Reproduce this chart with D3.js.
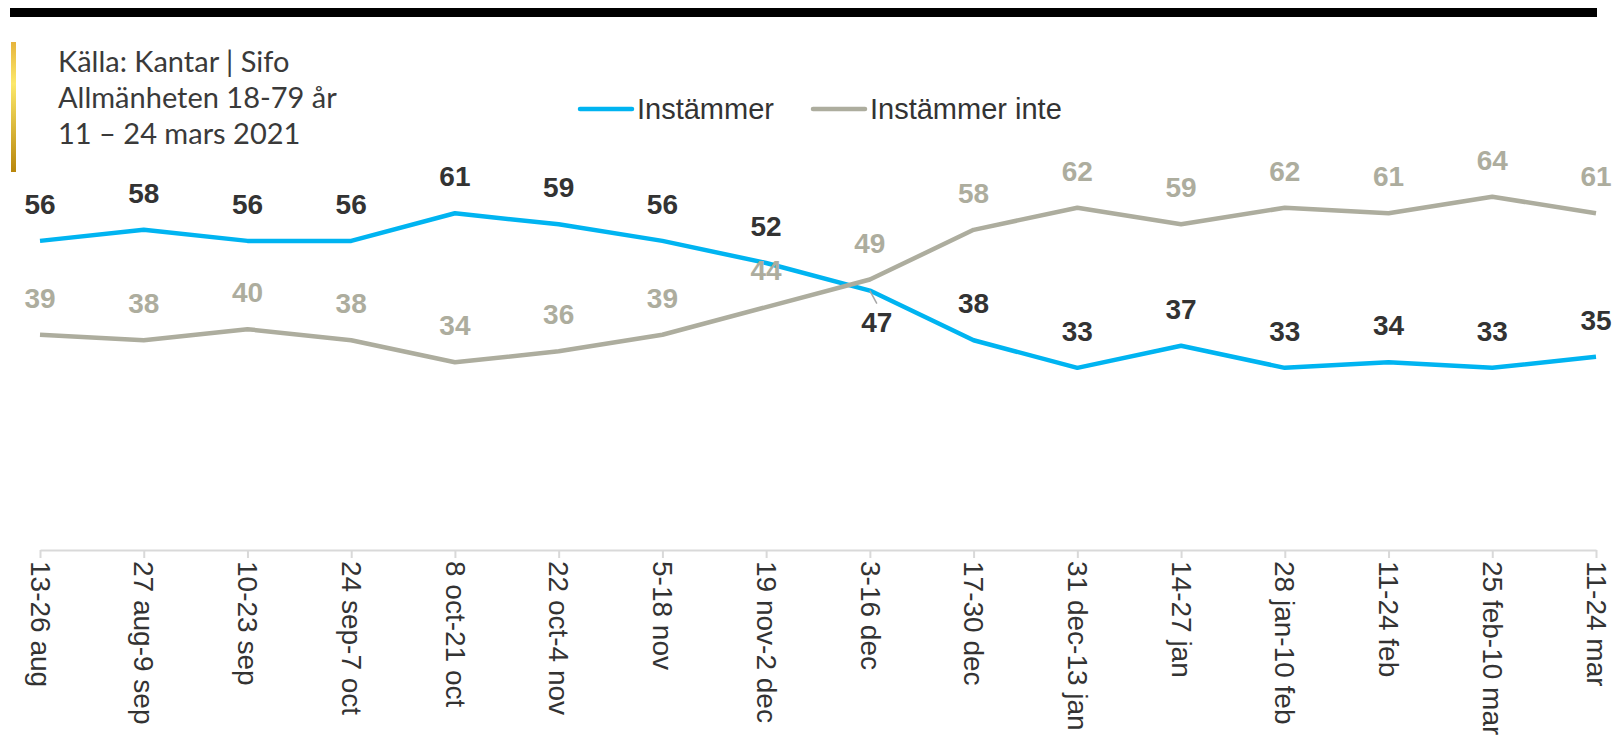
<!DOCTYPE html>
<html>
<head>
<meta charset="utf-8">
<script src="https://cdn.jsdelivr.net/npm/d3@7"></script>
<style>
  body { margin: 0; background: #fff; }
  svg { display: block; }
</style>
</head>
<body>
<div id="chart"></div>
<script>
const categories = ['13-26 aug', '27 aug-9 sep', '10-23 sep', '24 sep-7 oct', '8 oct-21 oct', '22 oct-4 nov',
    '5-18 nov', '19 nov-2 dec', '3-16 dec', '17-30 dec', '31 dec-13 jan', '14-27 jan', '28 jan-10 feb',
    '11-24 feb', '25 feb-10 mar', '11-24 mar'];
const instammer = [56, 58, 56, 56, 61, 59, 56, 52, 47, 38, 33, 37, 33, 34, 33, 35];
const instammerInte = [39, 38, 40, 38, 34, 36, 39, 44, 49, 58, 62, 59, 62, 61, 64, 61];
const seriesNames = ['Instämmer', 'Instämmer inte'];
const headerLines = ['Källa: Kantar | Sifo', 'Allmänheten 18-79 år', '11 – 24 mars 2021'];

const width = 1613, height = 750;
const blue = '#00b4f1', grey = '#adad9e';

const svg = d3.select('#chart').append('svg')
    .attr('width', width)
    .attr('height', height);

// top black rule
svg.append('rect')
    .attr('x', 10).attr('y', 8)
    .attr('width', 1587).attr('height', 9)
    .attr('fill', '#000');

// gold accent bar
const grad = svg.append('defs').append('linearGradient')
    .attr('id', 'gold').attr('x1', 0).attr('x2', 0).attr('y1', 0).attr('y2', 1);
grad.append('stop').attr('offset', '0%').attr('stop-color', '#e6b43c');
grad.append('stop').attr('offset', '32%').attr('stop-color', '#fce86a');
grad.append('stop').attr('offset', '100%').attr('stop-color', '#b8860b');
svg.append('rect')
    .attr('x', 11).attr('y', 42)
    .attr('width', 5).attr('height', 130)
    .attr('fill', 'url(#gold)');

// source text
svg.append('g').selectAll('text')
    .data(headerLines)
    .enter()
    .append('text')
    .attr('x', 58)
    .attr('y', (d, i) => 72 + i * 36)
    .attr('font-family', 'Lato, sans-serif')
    .attr('font-size', 29)
    .attr('fill', '#3a3a3a')
    .text(d => d);

// scales
const x = d3.scalePoint()
    .domain(categories)
    .range([40, 1596]);
const y = d3.scaleLinear()
    .domain([0, 100])
    .range([550, -2]);

// x axis
const axis = svg.append('g')
    .attr('transform', `translate(0,${y(0)})`)
    .call(d3.axisBottom(x).tickSize(8).tickSizeOuter(0));
axis.select('.domain').attr('stroke', '#d9d9d9').attr('stroke-width', 2);
axis.selectAll('.tick line').attr('stroke', '#d9d9d9').attr('stroke-width', 2);
axis.selectAll('.tick text')
    .attr('transform', 'rotate(90)')
    .attr('x', 11)
    .attr('y', 0)
    .attr('dy', '0.35em')
    .attr('text-anchor', 'start')
    .attr('font-family', 'Liberation Sans, Arial, sans-serif')
    .attr('font-size', 28)
    .attr('fill', '#333');

// lines
const line = d3.line()
    .x((d, i) => x(categories[i]))
    .y(d => y(d));

const series = [
    { name: seriesNames[0], values: instammer, color: blue, labelColor: '#333333' },
    { name: seriesNames[1], values: instammerInte, color: grey, labelColor: grey }
];

svg.append('g').selectAll('path')
    .data(series)
    .enter()
    .append('path')
    .attr('d', d => line(d.values))
    .attr('fill', 'none')
    .attr('stroke', d => d.color)
    .attr('stroke-width', 4.5)
    .attr('stroke-linejoin', 'round');

// data labels (the 47 point sits below with a short leader)
const below = (s, i) => s === 0 && i === 8;

series.forEach((s, si) => {
    const g = svg.append('g');
    s.values.forEach((v, i) => {
        const px = x(categories[i]), py = y(v);
        if (below(si, i)) {
            g.append('line')
                .attr('x1', px).attr('y1', py)
                .attr('x2', px + 7).attr('y2', py + 13)
                .attr('stroke', '#a6a6a6')
                .attr('stroke-width', 1.5);
        }
        g.append('text')
            .attr('x', below(si, i) ? px + 7 : px)
            .attr('y', below(si, i) ? py + 41 : py - 27)
            .attr('text-anchor', 'middle')
            .attr('font-family', 'Liberation Sans, Arial, sans-serif')
            .attr('font-weight', 'bold')
            .attr('font-size', 28)
            .attr('fill', s.labelColor)
            .text(v);
    });
});

// legend
const legend = svg.append('g').attr('transform', 'translate(0,109)');
const legendX = [580, 813];
series.forEach((s, i) => {
    legend.append('line')
        .attr('x1', legendX[i]).attr('x2', legendX[i] + 52)
        .attr('y1', 0).attr('y2', 0)
        .attr('stroke', s.color)
        .attr('stroke-width', 4.5)
        .attr('stroke-linecap', 'round');
    legend.append('text')
        .attr('x', legendX[i] + 57)
        .attr('y', 10)
        .attr('font-family', 'Liberation Sans, Arial, sans-serif')
        .attr('font-size', 29)
        .attr('fill', '#333')
        .text(s.name);
});
</script>
</body>
</html>
